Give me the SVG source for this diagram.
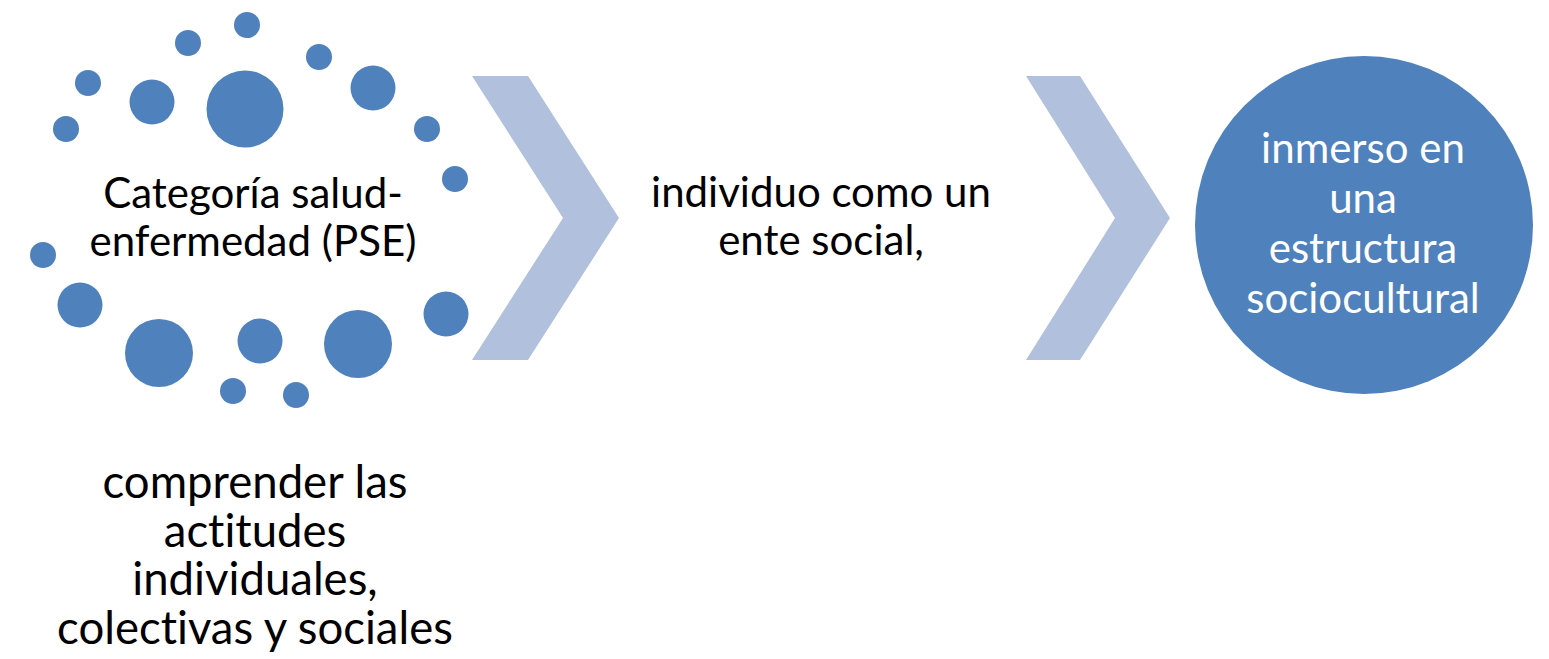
<svg xmlns="http://www.w3.org/2000/svg" width="1549" height="659" viewBox="0 0 1549 659">
<style>
.dot{fill:#4F81BD}
.chev{fill:#B1C1DD}
.t{font-family:Lato,"Liberation Sans",sans-serif;font-size:42px;fill:#000;text-anchor:middle;font-variant-ligatures:none;font-feature-settings:"liga" 0,"dlig" 0}
.b{font-size:45.5px}
.w{fill:#fff}
</style>
<rect width="1549" height="659" fill="#fff"/>
<g id="node-pse">
<circle class="dot" cx="247" cy="25" r="13"/>
<circle class="dot" cx="188" cy="43" r="13"/>
<circle class="dot" cx="319" cy="57" r="13"/>
<circle class="dot" cx="88" cy="83" r="13"/>
<circle class="dot" cx="152" cy="102" r="22.5"/>
<circle class="dot" cx="245" cy="109" r="38.5"/>
<circle class="dot" cx="373" cy="88" r="22.5"/>
<circle class="dot" cx="66" cy="129" r="13"/>
<circle class="dot" cx="427" cy="129" r="13"/>
<circle class="dot" cx="455" cy="179" r="13"/>
<circle class="dot" cx="43" cy="255" r="13"/>
<circle class="dot" cx="80" cy="305" r="22.5"/>
<circle class="dot" cx="446" cy="314" r="22.5"/>
<circle class="dot" cx="159" cy="353" r="34"/>
<circle class="dot" cx="260" cy="341" r="22.5"/>
<circle class="dot" cx="358" cy="344" r="34"/>
<circle class="dot" cx="233" cy="391" r="13"/>
<circle class="dot" cx="296" cy="395" r="13"/>
<text class="t" x="253" y="208">Categoría salud-</text>
<text class="t" x="253" y="256">enfermedad (PSE)</text>
</g>
<g id="node-comprender">
<text class="t b" x="255" y="498">comprender las</text>
<text class="t b" x="255" y="547">actitudes</text>
<text class="t b" x="255" y="595">individuales,</text>
<text class="t b" x="255" y="644">colectivas y sociales</text>
</g>
<g id="connectors">
<polygon class="chev" points="472,76 528,76 619,218 528,360 472,360 563,218"/>
<polygon class="chev" points="1026,76 1080,76 1170,218 1080,360 1026,360 1115,218"/>
</g>
<g id="node-individuo">
<text class="t" x="821" y="207">individuo como un</text>
<text class="t" x="821" y="255">ente social,</text>
</g>
<g id="node-inmerso">
<circle class="dot" cx="1364" cy="225" r="169"/>
<text class="t w" x="1363" y="163">inmerso en</text>
<text class="t w" x="1363" y="213">una</text>
<text class="t w" x="1363" y="263">estructura</text>
<text class="t w" x="1363" y="313">sociocultural</text>
</g>
</svg>
